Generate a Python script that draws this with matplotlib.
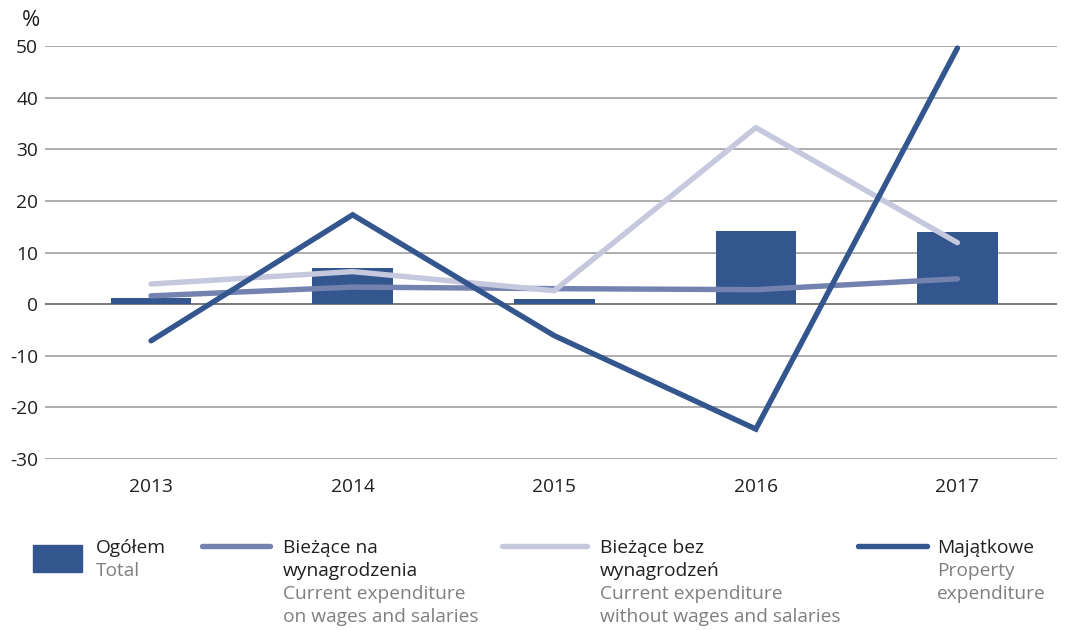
import matplotlib
matplotlib.use("Agg")
import matplotlib.pyplot as plt
from matplotlib.lines import Line2D
from matplotlib.patches import Rectangle

plt.rcParams['font.family'] = ['Open Sans', 'DejaVu Sans']

years = ["2013", "2014", "2015", "2016", "2017"]
ogolem = [1.2, 7.0, 1.0, 14.1, 14.0]
biezace_na_wyn = [1.6, 3.3, 3.0, 2.8, 4.9]
biezace_bez_wyn = [3.9, 6.3, 2.6, 34.2, 11.9]
majatkowe = [-7.1, 17.3, -6.1, -24.2, 49.6]
yticks = [-30, -20, -10, 0, 10, 20, 30, 40, 50]

DARK = "#34568f"
MED = "#7482b0"
LIGHT = "#c6c9de"
TXT = "#231f20"
GRAY = "#7f7f7f"

W, H = 1067, 630
fig = plt.figure(figsize=(W / 100, H / 100), dpi=100)
ax = fig.add_axes([45 / W, 1 - 459 / H, (1057 - 45) / W, (459 - 46) / H])

x = list(range(len(years)))
ax.set_ylim(-30, 50)
ax.set_xlim(-0.526, 4.494)
for t in yticks:
    ax.axhline(t, color="#7a7a7a" if t == 0 else "#a0a0a0", lw=1.4 if t == 0 else 1.2, zorder=0)

ax.bar(x, ogolem, width=0.40, color=DARK, zorder=2)
ax.plot(x, biezace_na_wyn, color=MED, lw=3.9, solid_capstyle='round', zorder=3, clip_on=False)
ax.plot(x, biezace_bez_wyn, color=LIGHT, lw=3.9, solid_capstyle='round', zorder=3, clip_on=False)
ax.plot(x, majatkowe, color=DARK, lw=3.9, solid_capstyle='round', solid_joinstyle='miter', zorder=4, clip_on=False)

fs = 13.8
for s in ax.spines.values():
    s.set_visible(False)
ax.set_yticks(yticks)
ax.set_yticklabels([str(t) for t in yticks], fontsize=fs, color=TXT)
ax.set_xticks(x)
ax.set_xticklabels(years, fontsize=fs, color=TXT)
ax.tick_params(axis='both', length=0)
ax.tick_params(axis='y', pad=5)
ax.tick_params(axis='x', pad=14)
fig.text(40 / W, 1 - 21 / H, "%", ha='right', va='center', fontsize=fs + 2, color=TXT)

# legend
def fy(py):
    return 1 - py / H

lh = 23
fig.add_artist(Rectangle((33 / W, fy(572)), 49 / W, 27 / H, color=DARK, transform=fig.transFigure))
fig.text(96 / W, fy(548), "Ogółem", fontsize=fs, color=TXT, va='center')
fig.text(96 / W, fy(548 + lh), "Total", fontsize=fs, color=GRAY, va='center')

entries = [
    (202, 270, 283, MED, ["Bieżące na", "wynagrodzenia"], ["Current expenditure", "on wages and salaries"]),
    (502, 587, 600, LIGHT, ["Bieżące bez", "wynagrodzeń"], ["Current expenditure", "without wages and salaries"]),
    (858, 927, 937, DARK, ["Majątkowe"], ["Property", "expenditure"]),
]
for x0, x1, tx, col, pl, en in entries:
    fig.add_artist(Line2D([x0 / W, x1 / W], [fy(546), fy(546)], color=col, lw=3.9,
                          solid_capstyle='round', transform=fig.transFigure))
    yy = 548
    for s in pl:
        fig.text(tx / W, fy(yy), s, fontsize=fs, color=TXT, va='center')
        yy += lh
    for s in en:
        fig.text(tx / W, fy(yy), s, fontsize=fs, color=GRAY, va='center')
        yy += lh

fig.savefig("out.png", dpi=100)
